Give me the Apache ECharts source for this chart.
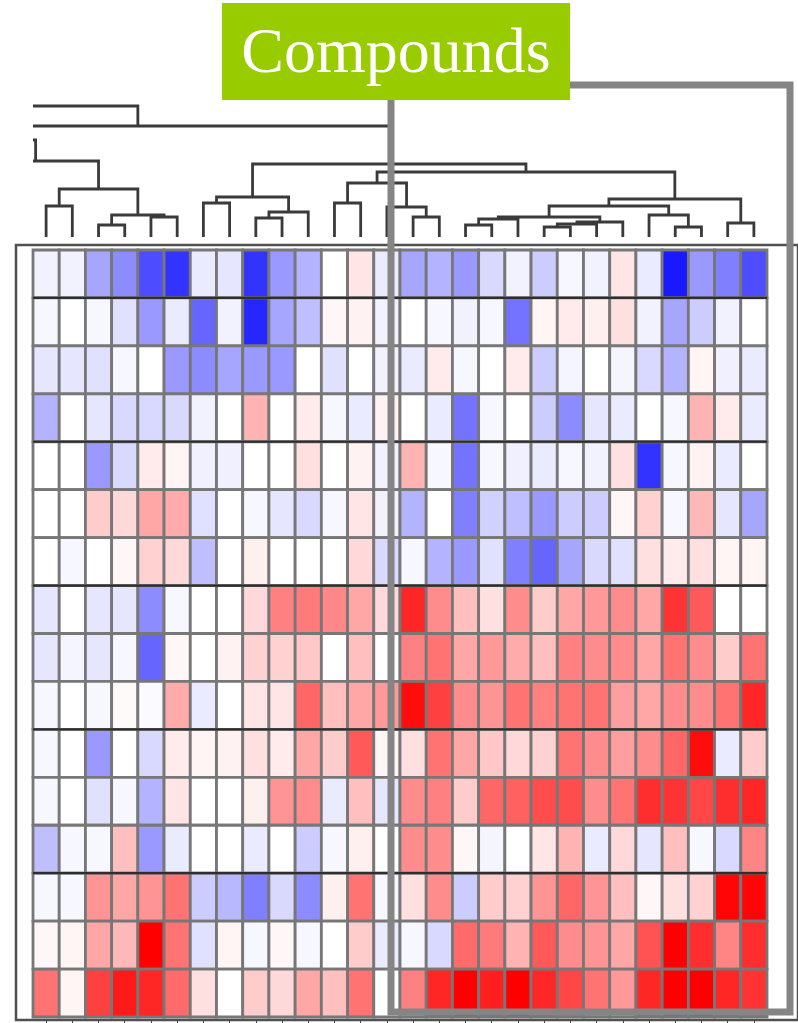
<!DOCTYPE html>
<html><head><meta charset="utf-8">
<script src="https://cdn.jsdelivr.net/npm/echarts@6/dist/echarts.min.js"></script>
<style>html,body{margin:0;padding:0;background:#fff}#c{width:798px;height:1023px}</style>
</head><body><div id="c"></div>
<script>
// ---------- DATA ----------
const columns = ['C1','C2','C3','C4','C5','C6','C7','C8','C9','C10','C11','C12','C13','C14',
  'C15','C16','C17','C18','C19','C20','C21','C22','C23','C24','C25','C26','C27','C28'];
const rows = ['R1','R2','R3','R4','R5','R6','R7','R8','R9','R10','R11','R12','R13','R14','R15','R16'];

const r01 = [-0.05,-0.05,-0.35,-0.45,-0.7,-0.8,-0.08,-0.1,-0.8,-0.4,-0.3,0,0.1,-0.08,-0.35,-0.3,-0.4,-0.15,-0.05,-0.2,-0.03,-0.05,0.1,-0.08,-0.9,-0.4,-0.5,-0.7];
const r02 = [-0.03,0,-0.03,-0.12,-0.4,-0.08,-0.6,-0.05,-0.85,-0.35,-0.25,0.03,0.05,-0.05,0,-0.03,-0.05,-0.03,-0.55,0.04,0.08,0.06,0.12,-0.05,-0.35,-0.2,-0.05,0];
const r03 = [-0.1,-0.1,-0.12,-0.03,0,-0.4,-0.45,-0.35,-0.4,-0.4,0,-0.12,0,-0.05,-0.08,0.08,-0.03,0,0.08,-0.2,-0.04,0,-0.04,-0.15,-0.3,0.04,-0.06,-0.08];
const r04 = [-0.3,0,-0.1,-0.15,-0.15,-0.15,-0.05,0,0.3,0,0.08,-0.03,-0.08,0.05,0,-0.08,-0.55,-0.03,0,-0.2,-0.45,-0.1,-0.08,0,-0.03,0.3,0.08,-0.08];
const r05 = [0,0,-0.4,-0.15,0.08,0.04,-0.06,-0.06,0,0,0.12,0,0.05,-0.05,0.3,-0.03,-0.55,-0.03,-0.06,-0.08,-0.03,-0.05,0.12,-0.8,-0.03,0.05,-0.08,0];
const r06 = [0,0,0.2,0.15,0.35,0.33,-0.12,0,-0.03,-0.1,-0.15,-0.03,0.1,-0.05,-0.3,0,-0.5,-0.18,-0.25,-0.4,-0.2,-0.2,0.03,0.18,-0.03,0.28,-0.1,-0.35];
const r07 = [0,-0.03,0,0.03,0.18,0.15,-0.25,0,0.06,0,0,0,0.15,-0.15,-0.03,-0.3,-0.4,-0.12,-0.5,-0.6,-0.35,-0.15,-0.12,0.12,0.08,0.12,0.04,0.04];
const r08 = [-0.1,0,-0.1,-0.1,-0.45,-0.03,0,0,0.15,0.5,0.52,0.47,0.35,0.15,0.85,0.45,0.25,0.12,0.45,0.2,0.35,0.4,0.45,0.35,0.8,0.65,0,0];
const r09 = [-0.1,-0.04,-0.1,-0.03,-0.6,0.03,0,0.05,0.18,0.18,0.22,0,0.25,0,0.5,0.55,0.35,0.4,0.33,0.25,0.5,0.45,0.45,0.35,0.55,0.45,0.2,0.55];
const r10 = [-0.03,0,-0.03,0.02,-0.02,0.33,-0.08,0,0.1,0.1,0.6,0.25,0.35,0.4,0.95,0.75,0.45,0.42,0.55,0.5,0.55,0.55,0.38,0.35,0.45,0.45,0.55,0.85];
const r11 = [-0.03,0,-0.4,0,-0.15,0.08,0.04,0.05,0.12,0.08,0.35,0.2,0.65,0.04,0.12,0.55,0.35,0.22,0.15,0.18,0.55,0.45,0.38,0.45,0.6,0.95,-0.08,0.2];
const r12 = [-0.03,0,-0.12,-0.03,-0.3,0.1,0,0,0.06,0.42,0.45,-0.08,0.25,-0.1,0.45,0.5,0.2,0.6,0.62,0.7,0.7,0.45,0.55,0.82,0.8,0.72,0.82,0.85];
const r13 = [-0.25,-0.03,-0.03,0.25,-0.4,-0.08,0,0,-0.08,0,-0.2,-0.03,0.06,0,0.45,0.45,0.03,-0.04,0,0.1,0.3,-0.08,0.15,-0.1,0.25,-0.03,-0.15,0.48];
const r14 = [-0.03,-0.03,0.42,0.35,0.42,0.55,-0.2,-0.28,-0.5,-0.15,-0.45,0.06,0.55,-0.03,0.12,0.45,-0.2,0.2,0.18,0.42,0.6,0.42,0.25,0.03,0.12,0.18,0.98,0.98];
const r15 = [0.03,0.04,0.35,0.28,1.0,0.55,-0.12,0.04,-0.03,0.03,-0.03,0,0.2,-0.08,-0.03,-0.15,0.58,0.52,0.3,0.65,0.45,0.42,0.35,0.68,1.0,0.82,0.48,0.82];
const r16 = [0.55,0.04,0.75,0.9,0.85,0.58,0.12,0,0.2,0.15,0.35,0.25,0.55,0,0.5,0.85,1.0,0.88,1.0,0.85,0.72,0.55,0.4,0.85,1.0,1.0,0.85,0.8];
const matrix = [r01,r02,r03,r04,r05,r06,r07,r08,r09,r10,r11,r12,r13,r14,r15,r16];

// rows that start a new row group (a darker separator is drawn above them)
const rowGroupStarts = [1, 4, 7, 10, 13];

// column dendrogram: leaves are column indices; stubs are branches cut off at the left edge
const stubs = { X1: -2.8, X2: -4.0, X3: -6.09, X4: -8.0 };
// [name, childA, childB, merge height]
const merges = [
  ['A', 0, 1, 31], ['B', 2, 3, 12], ['C', 4, 5, 20], ['D', 'B', 'C', 22], ['E', 'A', 'D', 48],
  ['F', 'X1', 'E', 76], ['G', 'X2', 'F', 97],
  ['H', 6, 7, 34], ['I', 8, 9, 19], ['J', 'I', 10, 25], ['K', 'H', 'J', 40],
  ['L', 11, 12, 34], ['M', 14, 15, 20], ['N', 13, 'M', 30], ['O', 'L', 'N', 54],
  ['P', 16, 17, 12], ['Q', 'P', 18, 18], ['R', 19, 20, 10], ['S', 'R', 21, 13], ['T', 'S', 22, 15],
  ['U', 'Q', 'T', 20], ['V', 24, 25, 10], ['W', 23, 'V', 22], ['X', 'U', 'W', 31],
  ['Y', 26, 27, 14], ['Z', 'X', 'Y', 38], ['AA', 'O', 'Z', 65], ['AB', 'K', 'AA', 73],
  ['AC', 'X3', 'AB', 111], ['AD', 'X4', 'AC', 131]
];
const titleText = 'Compounds';

// ---------- BUILD ----------
const cellData = [];
matrix.forEach((row, j) => row.forEach((v, i) => cellData.push([i, j, v])));

const nodes = {};
Object.keys(stubs).forEach(k => nodes[k] = { x: stubs[k], h: 0 });
function getNode(id) { return typeof id === 'number' ? { x: id, h: 0 } : nodes[id]; }
const linkData = [];
merges.forEach(m => {
  const a = getNode(m[1]), b = getNode(m[2]);
  nodes[m[0]] = { x: (a.x + b.x) / 2, h: m[3] };
  linkData.push([a.x, a.h, b.x, b.h, m[3]]);
});

const chart = echarts.init(document.getElementById('c'));
const gridL = 33, gridR = 31;
chart.setOption({
  animation: false,
  backgroundColor: '#ffffff',
  grid: [
    { left: gridL, right: gridR, top: 250, bottom: 6 },        // heatmap
    { left: gridL, right: gridR, top: 95, bottom: 786 },        // dendrogram
    { left: 16, right: -20, top: 245, bottom: 3, show: true, borderColor: '#505050', borderWidth: 2.5, backgroundColor: 'transparent' } // frame
  ],
  xAxis: [
    { gridIndex: 0, type: 'category', data: columns, position: 'bottom', offset: 3,
      axisLine: { show: false }, axisLabel: { show: false },
      axisTick: { show: true, alignWithLabel: true, interval: 0, length: 4, lineStyle: { color: '#444', width: 1 } },
      splitLine: { show: false } },
    { gridIndex: 1, type: 'value', min: -0.5, max: 27.5, show: false },
    { gridIndex: 2, type: 'value', min: 0, max: 1, show: false }
  ],
  yAxis: [
    { gridIndex: 0, type: 'category', data: rows, inverse: true, show: false },
    { gridIndex: 1, type: 'value', min: 0, max: 142, show: false },
    { gridIndex: 2, type: 'value', min: 0, max: 1, show: false }
  ],
  visualMap: {
    show: false, type: 'continuous', min: -1, max: 1, dimension: 2, seriesIndex: 0,
    inRange: { color: ['#0000ff', '#ffffff', '#ff0000'] }
  },
  series: [
    {
      type: 'custom', xAxisIndex: 0, yAxisIndex: 0, data: cellData,
      encode: { x: 0, y: 1 },
      renderItem: function (params, api) {
        const c = api.coord([api.value(0), api.value(1)]);
        const s = api.size([1, 1]);
        return { type: 'rect',
          shape: { x: c[0] - s[0] / 2, y: c[1] - s[1] / 2, width: s[0], height: s[1] },
          style: { fill: api.visual('color'), stroke: '#777777', lineWidth: 2.8 } };
      }
    },
    {
      type: 'custom', xAxisIndex: 0, yAxisIndex: 0, data: rowGroupStarts.map(r => [0, r]),
      encode: { x: 0, y: 1 }, z: 3,
      renderItem: function (params, api) {
        const c = api.coord([0, api.value(1)]);
        const s = api.size([1, 1]);
        const cs = params.coordSys;
        const y = c[1] - s[1] / 2;
        return { type: 'line', shape: { x1: cs.x, y1: y, x2: cs.x + cs.width, y2: y },
          style: { stroke: '#2e2e2e', lineWidth: 2.2 } };
      }
    },
    {
      type: 'custom', xAxisIndex: 1, yAxisIndex: 1, data: linkData, clip: true,
      encode: { x: [0, 2], y: [1, 3, 4] },
      renderItem: function (params, api) {
        const pts = [[api.value(0), api.value(1)], [api.value(0), api.value(4)],
                     [api.value(2), api.value(4)], [api.value(2), api.value(3)]].map(p => api.coord(p));
        const cs = params.coordSys;
        return { type: 'polyline', shape: { points: pts },
          style: { stroke: '#3a3a3a', lineWidth: 2.8, fill: null },
          clipPath: { type: 'rect', shape: { x: cs.x, y: cs.y - 20, width: cs.width, height: cs.height + 20 } } };
      }
    }
  ],
  graphic: [
    { type: 'rect', z: 100, shape: { x: 391, y: 85, width: 399, height: 927 },
      style: { fill: 'transparent', stroke: '#858585', lineWidth: 7 } },
    { type: 'rect', z: 110, shape: { x: 222, y: 3, width: 348, height: 97 }, style: { fill: '#99cc00' } },
    { type: 'text', z: 111, x: 396, y: 55,
      style: { text: titleText, fill: '#ffffff', font: '64px "Liberation Serif", "DejaVu Serif", serif',
        textAlign: 'center', textVerticalAlign: 'middle', align: 'center', verticalAlign: 'middle' } }
  ]
});
</script>
</body></html>
